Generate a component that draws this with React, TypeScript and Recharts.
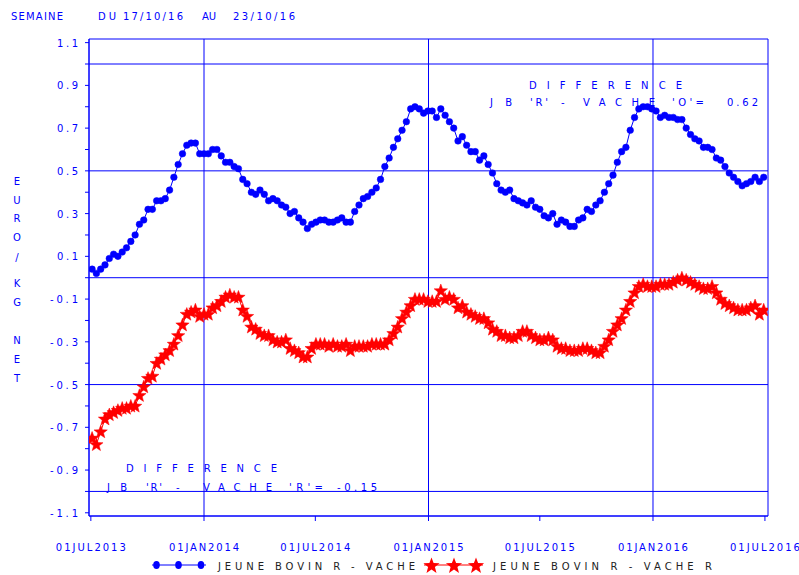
import React from 'react';
import { LineChart, Line, XAxis, YAxis, ReferenceLine, ReferenceArea } from 'recharts';

const BLUE = '#0000ff';
const RED = '#ff0000';
const FONT = '"DejaVu Sans", sans-serif';
const DAY = 86400000;

// weekly prices, first week plotted at 3 jul 2013
const firstWeek = Date.UTC(2013, 6, 3);

const jbVache = [
  0.04, 0.02, 0.04, 0.06, 0.09, 0.11, 0.10, 0.12, 0.14, 0.17,
  0.20, 0.25, 0.27, 0.32, 0.32, 0.36, 0.36, 0.37, 0.41, 0.47,
  0.53, 0.58, 0.62, 0.63, 0.63, 0.58, 0.58, 0.58, 0.60, 0.60,
  0.57, 0.54, 0.54, 0.52, 0.51, 0.46, 0.44, 0.40, 0.39, 0.41,
  0.39, 0.36, 0.37, 0.36, 0.34, 0.33, 0.30, 0.31, 0.28, 0.26,
  0.23, 0.25, 0.26, 0.27, 0.27, 0.26, 0.26, 0.27, 0.28, 0.26,
  0.26, 0.31, 0.34, 0.37, 0.38, 0.40, 0.42, 0.46, 0.52, 0.56,
  0.61, 0.65, 0.69, 0.73, 0.79, 0.80, 0.79, 0.77, 0.78,
  0.78, 0.75, 0.79, 0.76, 0.73, 0.70, 0.64, 0.66, 0.62, 0.59,
  0.59, 0.55, 0.57, 0.53, 0.49, 0.44, 0.41, 0.40, 0.41, 0.37,
  0.36, 0.35, 0.34, 0.36, 0.33, 0.32, 0.29, 0.28, 0.30, 0.25,
  0.27, 0.26, 0.24, 0.24, 0.27, 0.28, 0.32, 0.31, 0.34, 0.36,
  0.40, 0.44, 0.48, 0.54, 0.59, 0.61, 0.69, 0.75, 0.79, 0.80,
  0.80, 0.79, 0.78, 0.75, 0.76, 0.75, 0.75, 0.74, 0.74, 0.70,
  0.67, 0.65, 0.64, 0.61, 0.61, 0.60, 0.56, 0.55, 0.52, 0.49,
  0.47, 0.45, 0.43, 0.44, 0.45, 0.47, 0.45, 0.47,
];

const jbVacheR = [
  -0.75, -0.78, -0.72, -0.66, -0.64, -0.63, -0.62, -0.61, -0.61, -0.60,
  -0.60, -0.55, -0.51, -0.47, -0.46, -0.40, -0.38, -0.36, -0.34, -0.31,
  -0.27, -0.22, -0.17, -0.16, -0.15, -0.18, -0.17, -0.17, -0.14, -0.13,
  -0.11, -0.09, -0.08, -0.09, -0.09, -0.15, -0.18, -0.23, -0.24, -0.26,
  -0.27, -0.27, -0.29, -0.30, -0.30, -0.29, -0.33, -0.34, -0.35, -0.37,
  -0.37, -0.33, -0.31, -0.31, -0.31, -0.32, -0.31, -0.32, -0.32, -0.31,
  -0.34, -0.32, -0.32, -0.32, -0.32, -0.31, -0.31, -0.31, -0.31, -0.29,
  -0.26, -0.23, -0.19, -0.16, -0.13, -0.10, -0.10, -0.10, -0.11,
  -0.11, -0.11, -0.06, -0.10, -0.09, -0.10, -0.14, -0.13, -0.16, -0.17,
  -0.18, -0.19, -0.19, -0.21, -0.24, -0.25, -0.27, -0.27, -0.28, -0.28,
  -0.27, -0.25, -0.25, -0.27, -0.28, -0.29, -0.29, -0.28, -0.29, -0.32,
  -0.33, -0.33, -0.34, -0.34, -0.34, -0.33, -0.33, -0.34, -0.35, -0.35,
  -0.32, -0.29, -0.25, -0.22, -0.19, -0.15, -0.11, -0.07, -0.04, -0.03,
  -0.04, -0.04, -0.04, -0.03, -0.03, -0.03, -0.02, -0.01, 0.00, -0.01,
  -0.02, -0.03, -0.04, -0.05, -0.05, -0.04, -0.07, -0.10, -0.12, -0.13,
  -0.14, -0.15, -0.15, -0.15, -0.14, -0.13, -0.17, -0.15,
];

const xTickDates = [
  Date.UTC(2013, 6, 1), Date.UTC(2014, 0, 1), Date.UTC(2014, 6, 1), Date.UTC(2015, 0, 1),
  Date.UTC(2015, 6, 1), Date.UTC(2016, 0, 1), Date.UTC(2016, 6, 1),
];
const xTickLabels = ['01JUL2013', '01JAN2014', '01JUL2014', '01JAN2015', '01JUL2015', '01JAN2016', '01JUL2016'];
const xGridDates = [Date.UTC(2014, 0, 1), Date.UTC(2015, 0, 1), Date.UTC(2016, 0, 1)];
const xDomain = [Date.UTC(2013, 5, 28), Date.UTC(2016, 6, 6)];

const yTicks = [-1.1, -1.0, -0.9, -0.8, -0.7, -0.6, -0.5, -0.4, -0.3, -0.2, -0.1, 0, 0.1, 0.2, 0.3, 0.4, 0.5, 0.6, 0.7, 0.8, 0.9, 1.0, 1.1];
const yGrid = [1.0, 0.5, 0, -0.5, -1.0];
const yDomain = [-1.115, 1.117];

const yTitle = [
  ['E', 181], ['U', 200], ['R', 218], ['O', 237], ['/', 257],
  ['K', 283], ['G', 302], ['N', 340], ['E', 359], ['T', 378],
];

const data = jbVache.map((v, i) => ({ t: firstWeek + i * 7 * DAY, blue: v, red: jbVacheR[i] }));

function starPath(cx: number, cy: number, R: number) {
  const r = R * 0.42;
  let d = '';
  for (let k = 0; k < 10; k++) {
    const rad = k % 2 === 0 ? R : r;
    const a = -Math.PI / 2 + (k * Math.PI) / 5;
    d += (k === 0 ? 'M' : 'L') + (cx + rad * Math.cos(a)).toFixed(2) + ',' + (cy + rad * Math.sin(a)).toFixed(2);
  }
  return d + 'Z';
}

const StarDot = (props: any) => {
  const { cx, cy, index } = props;
  if (cx == null || cy == null) return <g key={'s' + index} />;
  return <path key={'s' + index} d={starPath(cx, cy + 0.5, 7)} fill={RED} stroke={RED} strokeWidth={0.5} />;
};

const YTick = (props: any) => {
  const { x, y, payload } = props;
  const v = payload.value;
  const odd = Math.round(Math.abs(v) * 10) % 2 === 1;
  if (!odd) return <g />;
  const label = v.toFixed(1);
  return (
    <text x={x} y={y + 4} textAnchor="end" fontSize={10} fontFamily={FONT} fill={BLUE}
      textLength={label.length === 3 ? 21 : 28} lengthAdjust="spacing">
      {label}
    </text>
  );
};

const XTick = (props: any) => {
  const { x, y, payload } = props;
  const i = xTickDates.indexOf(payload.value);
  return (
    <text x={x} y={y + 28} textAnchor="middle" fontSize={10} fontFamily={FONT} fill={BLUE}
      textLength={70} lengthAdjust="spacing">
      {xTickLabels[i]}
    </text>
  );
};

const T = (p: { x: number; y: number; w: number; s: string; c?: string; size?: number }) => (
  <text x={p.x} y={p.y} textLength={p.w} lengthAdjust="spacing" fontSize={p.size || 10}
    fontFamily={FONT} fill={p.c || BLUE}>
    {p.s}
  </text>
);

export default function App() {
  return (
    <div style={{ position: 'absolute', left: 0, top: 0, width: 799, height: 575, background: '#fff' }}>
      <LineChart width={799} height={575} data={data} margin={{ top: 39, right: 31, bottom: 29, left: 29 }}>
        <XAxis dataKey="t" type="number" domain={xDomain} ticks={xTickDates} allowDataOverflow interval={0}
          height={30} stroke={BLUE} tickSize={5} tickMargin={2} tick={<XTick />} />
        <YAxis type="number" domain={yDomain} ticks={yTicks} allowDataOverflow interval={0}
          width={60} stroke={BLUE} tickSize={4} tickMargin={7} tick={<YTick />} />
        <ReferenceArea x1={xDomain[0]} x2={xDomain[1]} y1={yDomain[0]} y2={yDomain[1]}
          fill="none" stroke={BLUE} strokeWidth={1} />
        {yGrid.map((v) => (
          <ReferenceLine key={'y' + v} y={v} stroke={BLUE} strokeWidth={1} />
        ))}
        {xGridDates.map((d) => (
          <ReferenceLine key={'x' + d} x={d} stroke={BLUE} strokeWidth={1} />
        ))}
        <Line dataKey="blue" type="linear" stroke={BLUE} strokeWidth={1} isAnimationActive={false}
          dot={{ r: 3.3, fill: BLUE, stroke: BLUE, strokeWidth: 0.5 }} />
        <Line dataKey="red" type="linear" stroke={RED} strokeWidth={1} isAnimationActive={false}
          dot={(p: any) => <StarDot key={'s' + p.index} {...p} />} />
      </LineChart>

      <svg width={799} height={575} style={{ position: 'absolute', left: 0, top: 0, pointerEvents: 'none' }}>
        <T x={11} y={20} w={52} s="SEMAINE" />
        <T x={98} y={20} w={18} s="DU" />
        <T x={123} y={20} w={60} s="17/10/16" />
        <T x={202} y={20} w={14} s="AU" />
        <T x={233} y={20} w={62} s="23/10/16" />

        {yTitle.map(([ch, cy], i) => (
          <text key={i} x={17} y={(cy as number) + 4} textAnchor="middle" fontSize={10} fontFamily={FONT} fill={BLUE}>
            {ch}
          </text>
        ))}

        <T x={529} y={89} w={153} s="DIFFERENCE" />
        <T x={490} y={106} w={22} s="JB" />
        <T x={530} y={106} w={18} s="'R'" />
        <T x={561} y={106} w={7} s="-" />
        <T x={583} y={106} w={72} s="VACHE" />
        <T x={672} y={106} w={32} s="'O'=" />
        <T x={727} y={106} w={31} s="0.62" />

        <T x={126} y={472} w={151} s="DIFFERENCE" />
        <T x={107} y={491} w={20} s="JB" />
        <T x={146} y={491} w={16} s="'R'" />
        <T x={176} y={491} w={7} s="-" />
        <T x={203} y={491} w={69} s="VACHE" />
        <T x={289} y={491} w={34} s="'R'=" />
        <T x={337} y={491} w={40} s="-0.15" />

        <line x1={152} y1={565} x2={206} y2={565} stroke={BLUE} strokeWidth={1} />
        {[156.5, 178.5, 201].map((cx) => (
          <ellipse key={cx} cx={cx} cy={565} rx={3.3} ry={4} fill={BLUE} />
        ))}
        <T x={218} y={570} w={197} s="JEUNE BOVIN R - VACHE" c="#222" />
        <line x1={424} y1={565} x2={483} y2={565} stroke={RED} strokeWidth={1} />
        {[431.5, 454, 476].map((cx) => (
          <path key={cx} d={starPath(cx, 566, 8.5)} fill={RED} />
        ))}
        <T x={493} y={570} w={219} s="JEUNE BOVIN R - VACHE R" c="#222" />
      </svg>
    </div>
  );
}
